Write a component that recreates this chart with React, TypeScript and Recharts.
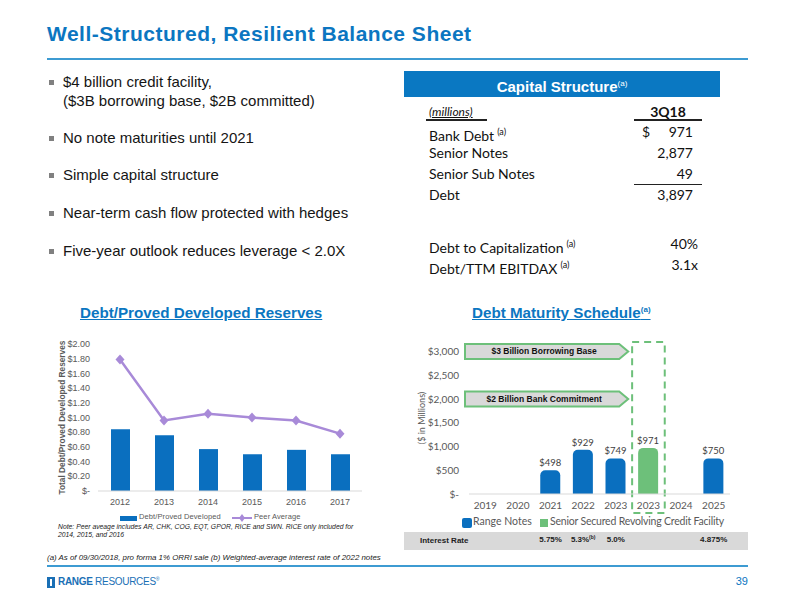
import React from 'react'
import {
  ComposedChart, BarChart, Bar, Line, XAxis, YAxis, LabelList,
  ReferenceArea, ReferenceLine
} from 'recharts'

const BLUE = '#0B76C1'
const BAR_BLUE = '#0A6FBF'
const PURPLE = '#A88AD8'
const GREEN = '#6DC07A'
const GRAY_TEXT = '#595959'
const ARIAL = '"Liberation Sans", Arial, sans-serif'
const CALIBRI = 'Lato, "Noto Sans", sans-serif'

// bullets
const bullets = [
  ['$4 billion credit facility,', '($3B borrowing base, $2B committed)'],
  ['No note maturities until 2021'],
  ['Simple capital structure'],
  ['Near-term cash flow protected with hedges'],
  ['Five-year outlook reduces leverage < 2.0X'],
]

// capital structure table
const capLabels = ['Bank Debt', 'Senior Notes', 'Senior Sub Notes', 'Debt']
const capNotes = ['(a)', '', '', '']
const capValues = ['971', '2,877', '49', '3,897']
const ratioLabels = ['Debt to Capitalization', 'Debt/TTM EBITDAX']
const ratioValues = ['40%', '3.1x']

// debt / proved developed reserves
const reserveYears = ['2012', '2013', '2014', '2015', '2016', '2017']
const debtPerReserve = [0.84, 0.76, 0.57, 0.5, 0.56, 0.5]
const peerAverage = [1.79, 0.96, 1.05, 1.0, 0.96, 0.78]
const reserveTicks = [0, 0.2, 0.4, 0.6, 0.8, 1.0, 1.2, 1.4, 1.6, 1.8, 2.0]

// debt maturity schedule
const maturityIds = ['2019', '2020', '2021', '2022', '2023', '2023r', '2024', '2025']
const maturityLabels = ['2019', '2020', '2021', '2022', '2023', '2023', '2024', '2025']
const rangeNotes = [null, null, 498, 929, 749, null, null, 750]
const revolver = [null, null, null, null, null, 971, null, null]
const interestRates = ['', '', '5.75%', '5.3%', '5.0%', '', '', '4.875%']
const rateNotes = ['', '', '', '(b)', '', '', '', '']
const maturityTicks = [0, 500, 1000, 1500, 2000, 2500, 3000]
const borrowingBase = 3000
const bankCommitment = 2000

const reserveData = reserveYears.map((year, i) => ({
  year, debt: debtPerReserve[i], peer: peerAverage[i],
}))

const maturityData = maturityIds.map((id, i) => ({
  id, notes: rangeNotes[i], revolver: revolver[i],
}))

const Diamond = (props: any) => {
  const { cx, cy } = props
  if (cx == null || cy == null) return null
  return (
    <polygon
      points={`${cx},${cy - 5} ${cx + 4.5},${cy} ${cx},${cy + 5} ${cx - 4.5},${cy}`}
      fill={PURPLE}
    />
  )
}

const bannerArrow = (text: string) => (props: any) => {
  const { x1, x2, y1 } = props
  const left = x1 - 4
  const tip = x1 + (x2 - x1) * 0.61
  const h = 15
  const pts = `${left},${y1 - h / 2} ${tip - 9},${y1 - h / 2} ${tip},${y1} ${tip - 9},${y1 + h / 2} ${left},${y1 + h / 2}`
  return (
    <g>
      <polygon points={pts} fill="#D9D9D9" stroke={GREEN} strokeWidth={2} />
      <text x={(left + tip - 5) / 2} y={y1} dy="0.35em" textAnchor="middle"
        fontSize={8.5} fontWeight="bold" fontFamily={ARIAL} fill="#111">{text}</text>
    </g>
  )
}

const RateTick = (props: any) => {
  const { x, y, payload } = props
  const i = maturityIds.indexOf(payload.value)
  if (i < 0 || !interestRates[i]) return null
  return (
    <text x={x} y={y} dy={4} textAnchor="middle" fontSize={8} fontWeight="bold"
      fontFamily={ARIAL} fill="#222">
      {interestRates[i]}
      {rateNotes[i] ? <tspan dy={-3} fontSize={5}>{rateNotes[i]}</tspan> : null}
    </text>
  )
}

function ReservesChart() {
  return (
    <ComposedChart width={330} height={183} data={reserveData}
      margin={{ top: 14, right: 8, left: 18, bottom: 0 }}>
      <XAxis dataKey="year" height={22} tickLine={false}
        axisLine={{ stroke: '#D9D9D9' }}
        tick={{ fontSize: 9, fill: GRAY_TEXT, fontFamily: ARIAL }} />
      <YAxis width={40} domain={[0, 2]} ticks={reserveTicks} interval={0}
        tickLine={false} axisLine={false}
        tick={{ fontSize: 9, fill: GRAY_TEXT, fontFamily: ARIAL }}
        tickFormatter={(v: number) => (v === 0 ? '$-' : `$${v.toFixed(2)}`)}
        label={{
          value: 'Total Debt/Proved Developed Reserves', angle: -90, position: 'insideLeft',
          offset: 4, style: { textAnchor: 'middle', fontSize: 8.3, fontWeight: 'bold', fill: GRAY_TEXT, fontFamily: ARIAL },
        }} />
      <Bar dataKey="debt" name="Debt/Proved Developed" fill={BAR_BLUE} barSize={19}
        isAnimationActive={false} />
      <Line dataKey="peer" name="Peer Average" stroke={PURPLE} strokeWidth={2.5}
        dot={<Diamond />} activeDot={false} isAnimationActive={false} />
    </ComposedChart>
  )
}

function MaturityChart() {
  return (
    <BarChart width={335} height={218} data={maturityData}
      margin={{ top: 12, right: 5, left: 28, bottom: 0 }}>
      <XAxis dataKey="id" height={36} tickLine={false} interval={0}
        axisLine={{ stroke: '#D9D9D9' }}
        tick={{ fontSize: 10, fill: GRAY_TEXT, fontFamily: CALIBRI }}
        tickFormatter={(v: string) => maturityLabels[maturityIds.indexOf(v)]} />
      <XAxis xAxisId="rate" dataKey="id" height={18} tickLine={false} axisLine={false}
        interval={0} tick={<RateTick />} />
      <YAxis width={41} domain={[0, 3200]} ticks={maturityTicks} interval={0}
        tickLine={false} axisLine={false} tickMargin={4}
        tick={{ fontSize: 10, fill: GRAY_TEXT, fontFamily: CALIBRI }}
        tickFormatter={(v: number) => (v === 0 ? '$-' : `$${v.toLocaleString('en-US')}`)}
        label={{
          value: '($ in Millions)', angle: -90, position: 'insideLeft', offset: -6,
          style: { textAnchor: 'middle', fontSize: 9, fill: GRAY_TEXT, fontFamily: CALIBRI },
        }} />
      <ReferenceArea x1="2023r" x2="2023r" y1={-400} y2={3200} ifOverflow="visible"
        fill="none" stroke={GREEN} strokeWidth={2} strokeDasharray="7 5" />
      <ReferenceLine y={borrowingBase} stroke="none" shape={bannerArrow('$3 Billion Borrowing Base')} />
      <ReferenceLine y={bankCommitment} stroke="none" shape={bannerArrow('$2 Billion Bank Commitment')} />
      <Bar dataKey="notes" name="Range Notes" stackId="a" fill={BAR_BLUE} barSize={20}
        radius={[5, 5, 0, 0]} isAnimationActive={false}>
        <LabelList dataKey="notes" position="top" offset={4}
          formatter={(v: any) => (v ? `$${v}` : '')}
          style={{ fontSize: 9.5, fill: '#404040', fontFamily: CALIBRI }} />
      </Bar>
      <Bar dataKey="revolver" name="Senior Secured Revolving Credit Facility" stackId="a"
        fill={GREEN} barSize={20} radius={[5, 5, 0, 0]} isAnimationActive={false}>
        <LabelList dataKey="revolver" position="top" offset={4}
          formatter={(v: any) => (v ? `$${v}` : '')}
          style={{ fontSize: 9.5, fill: '#404040', fontFamily: CALIBRI }} />
      </Bar>
    </BarChart>
  )
}

const abs = (left: number, top: number, extra: React.CSSProperties = {}): React.CSSProperties => ({
  position: 'absolute', left, top, whiteSpace: 'nowrap', ...extra,
})

export default function App() {
  const bulletTops = [[73, 92], [129], [166], [204], [242]]
  const tableRow = { fontFamily: CALIBRI, fontSize: 14, color: '#111', lineHeight: '18px' }
  return (
    <div style={{ position: 'absolute', left: 0, top: 0, width: 800, height: 600, background: '#fff', overflow: 'hidden', fontFamily: ARIAL }}>
      {/* title */}
      <div style={abs(47, 22, { fontSize: 21, fontWeight: 'bold', color: BLUE, letterSpacing: 0.5 })}>
        Well-Structured, Resilient Balance Sheet
      </div>
      <div style={abs(47, 58, { width: 701, height: 2, background: '#3D9BD2' })} />

      {/* bullets */}
      {bullets.map((lines, i) => (
        <React.Fragment key={i}>
          <div style={abs(49, bulletTops[i][0] + 7, { width: 5, height: 5, background: '#808080' })} />
          {lines.map((t, j) => (
            <div key={j} style={abs(63, bulletTops[i][j], { fontSize: 15, color: '#151515', lineHeight: '18px' })}>{t}</div>
          ))}
        </React.Fragment>
      ))}

      {/* capital structure */}
      <div style={abs(404, 71, { width: 316, height: 26, background: '#0A78C2', color: '#fff', fontWeight: 'bold', fontSize: 15, textAlign: 'center', lineHeight: '26px' })}>
        Capital Structure<sup style={{ fontSize: 8, fontWeight: 'normal' }}>(a)</sup>
      </div>
      <div style={abs(429, 103, { ...tableRow, fontStyle: 'italic', fontSize: 12, textDecoration: 'underline' })}>(millions)</div>
      <div style={abs(426, 119, { width: 61, height: 1.5, background: '#222' })} />
      <div style={abs(634, 103, { ...tableRow, width: 68, textAlign: 'center', fontWeight: 'bold' })}>3Q18</div>
      <div style={abs(634, 119, { width: 68, height: 1.5, background: '#222' })} />
      {capLabels.map((t, i) => {
        const top = 123 + i * 21
        return (
          <React.Fragment key={t}>
            <div style={abs(429, top, tableRow)}>
              {t}{capNotes[i] ? <sup style={{ fontSize: 9, marginLeft: 3 }}>{capNotes[i]}</sup> : null}
            </div>
            {i === 0 ? <div style={abs(642, top, tableRow)}>$</div> : null}
            <div style={abs(593, top, { ...tableRow, width: 100, textAlign: 'right' })}>{capValues[i]}</div>
          </React.Fragment>
        )
      })}
      <div style={abs(634, 184, { width: 68, height: 1.2, background: '#222' })} />
      {ratioLabels.map((t, i) => {
        const top = 235 + i * 21
        return (
          <React.Fragment key={t}>
            <div style={abs(429, top, tableRow)}>
              {t}<sup style={{ fontSize: 9, marginLeft: 3 }}>(a)</sup>
            </div>
            <div style={abs(598, top, { ...tableRow, width: 100, textAlign: 'right' })}>{ratioValues[i]}</div>
          </React.Fragment>
        )
      })}

      {/* left chart */}
      <div style={abs(80, 304, { fontSize: 15.2, fontWeight: 'bold', color: BLUE, textDecoration: 'underline' })}>
        Debt/Proved Developed Reserves
      </div>
      <div style={abs(40, 330)}><ReservesChart /></div>
      <div style={abs(120, 516, { width: 17, height: 5, background: BAR_BLUE })} />
      <div style={abs(139, 512, { fontSize: 7.5, color: GRAY_TEXT, letterSpacing: 0.1 })}>Debt/Proved Developed</div>
      <svg style={abs(232, 512)} width={20} height={12}>
        <line x1={0} y1={6} x2={20} y2={6} stroke={PURPLE} strokeWidth={2} />
        <polygon points="10,2 13,6 10,10 7,6" fill={PURPLE} />
      </svg>
      <div style={abs(254, 512, { fontSize: 7.5, color: GRAY_TEXT, letterSpacing: 0.1 })}>Peer Average</div>
      <div style={abs(58, 523, { fontSize: 6.8, fontStyle: 'italic', color: '#222', lineHeight: '7.6px' })}>
        Note: Peer aveage includes AR, CHK, COG, EQT, GPOR, RICE and SWN.  RICE only included for<br />2014, 2015, and 2016
      </div>

      {/* right chart */}
      <div style={abs(472, 304, { fontSize: 15.2, fontWeight: 'bold', color: BLUE, textDecoration: 'underline' })}>
        Debt Maturity Schedule<sup style={{ fontSize: 8 }}>(a)</sup>
      </div>
      <div style={abs(404, 532, { width: 344, height: 18, background: '#D9D9D9' })} />
      <div style={abs(420, 536, { fontSize: 8, fontWeight: 'bold', color: '#222' })}>Interest Rate</div>
      <div style={abs(400, 330)}><MaturityChart /></div>
      <div style={abs(462, 518, { width: 10, height: 10, background: BAR_BLUE, borderRadius: 2 })} />
      <div style={abs(473, 515, { fontSize: 10.5, color: GRAY_TEXT, fontFamily: CALIBRI })}>Range Notes</div>
      <div style={abs(540, 519, { width: 8, height: 8, background: GREEN })} />
      <div style={abs(550, 515, { fontSize: 10.5, color: GRAY_TEXT, fontFamily: CALIBRI, letterSpacing: -0.2 })}>Senior Secured Revolving Credit Facility</div>

      {/* footer */}
      <div style={abs(47, 553, { fontSize: 7.9, fontStyle: 'italic', color: '#222' })}>
        (a)  As of 09/30/2018, pro forma 1% ORRI sale (b) Weighted-average interest rate of 2022 notes
      </div>
      <div style={abs(47, 565, { width: 701, height: 1.5, background: '#3D9BD2' })} />
      <svg style={abs(47, 577)} width={8} height={11}>
        <rect x={0} y={0} width={8} height={11} fill="#1A6FB5" />
        <rect x={3} y={2} width={2} height={7} fill="#fff" />
      </svg>
      <div style={abs(58, 576, { fontSize: 10, color: '#1A6FB5', letterSpacing: -0.3 })}>
        <b>RANGE</b> RESOURCES<sup style={{ fontSize: 5 }}>®</sup>
      </div>
      <div style={abs(700, 575, { width: 48, textAlign: 'right', fontSize: 11, color: BLUE })}>39</div>
    </div>
  )
}
